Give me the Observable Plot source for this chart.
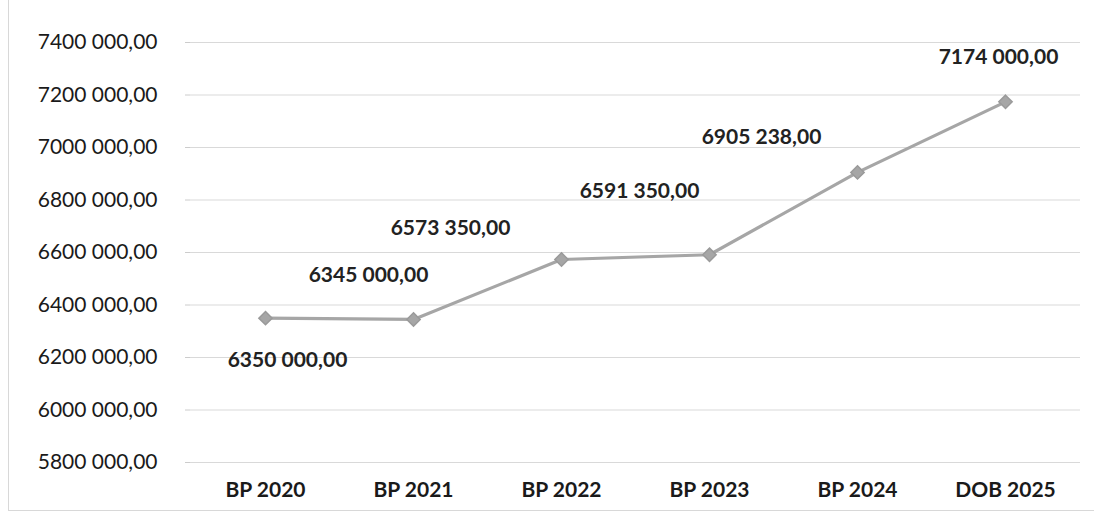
<!DOCTYPE html>
<html>
<head>
<meta charset="utf-8">
<script src="https://cdn.jsdelivr.net/npm/d3@7"></script>
<script src="https://cdn.jsdelivr.net/npm/@observablehq/plot@0.6"></script>
<style>
  html, body { margin: 0; padding: 0; background: #fff; }
  #wrap { position: relative; width: 1100px; height: 519px; }
  #frame { position: absolute; left: 8px; top: 0; width: 1085px; height: 510px;
           border-left: 1px solid #d8d8d8; border-bottom: 1px solid #d8d8d8; pointer-events: none; }
</style>
</head>
<body>
<div id="wrap"><div id="frame"></div></div>
<script>
const categories = ["BP 2020", "BP 2021", "BP 2022", "BP 2023", "BP 2024", "DOB 2025"];
const values = [6350000, 6345000, 6573350, 6591350, 6905238, 7174000];
const yTicks = [5800000, 6000000, 6200000, 6400000, 6600000, 6800000, 7000000, 7200000, 7400000];
const yTickLabels = ["5800 000,00", "6000 000,00", "6200 000,00", "6400 000,00", "6600 000,00",
                     "6800 000,00", "7000 000,00", "7200 000,00", "7400 000,00"];
const valueLabels = ["6350 000,00", "6345 000,00", "6573 350,00", "6591 350,00", "6905 238,00", "7174 000,00"];

const data = categories.map((c, i) => ({cat: c, value: values[i], label: valueLabels[i], i}));

// label offsets (dx, dy) relative to each point
const offsets = [[22, 42], [-45, -44], [-111, -31], [-70, -64], [-96, -35], [-7, -45]];

const font = "Lato, 'Open Sans', 'Liberation Sans', sans-serif";

const chart = Plot.plot({
  width: 1100,
  height: 519,
  marginTop: 42,
  marginBottom: 57,
  marginLeft: 190,
  marginRight: 20,
  style: {fontFamily: font, fontSize: "21px", color: "#1a1a1a", background: "transparent"},
  x: {type: "band", domain: categories, padding: 0, label: null},
  y: {domain: [5800000, 7400000], label: null},
  marks: [
    Plot.ruleY(yTicks, {stroke: "#d9d9d9", strokeWidth: 1.2}),
    Plot.axisY({ticks: yTicks, tickFormat: (d) => yTickLabels[yTicks.indexOf(d)],
                tickSize: 5, tickPadding: 28, stroke: "#ccc", fontSize: 21, fill: "#1a1a1a"}),
    Plot.axisX({tickSize: 0, tickPadding: 20, fontSize: 21, fontWeight: "bold", fill: "#1a1a1a"}),
    Plot.line(data, {x: "cat", y: "value", stroke: "#a6a6a6", strokeWidth: 3.2}),
    Plot.dot(data, {x: "cat", y: "value", symbol: "diamond2", r: 6, fill: "#a6a6a6", stroke: "#9a9a9a"}),
    ...offsets.map(([dx, dy], k) =>
      Plot.text(data.filter(d => d.i === k), {x: "cat", y: "value", text: "label", dx, dy,
        fontSize: 21, fontWeight: "bold", fill: "#222"}))
  ]
});
document.getElementById("wrap").prepend(chart);
</script>
</body>
</html>
